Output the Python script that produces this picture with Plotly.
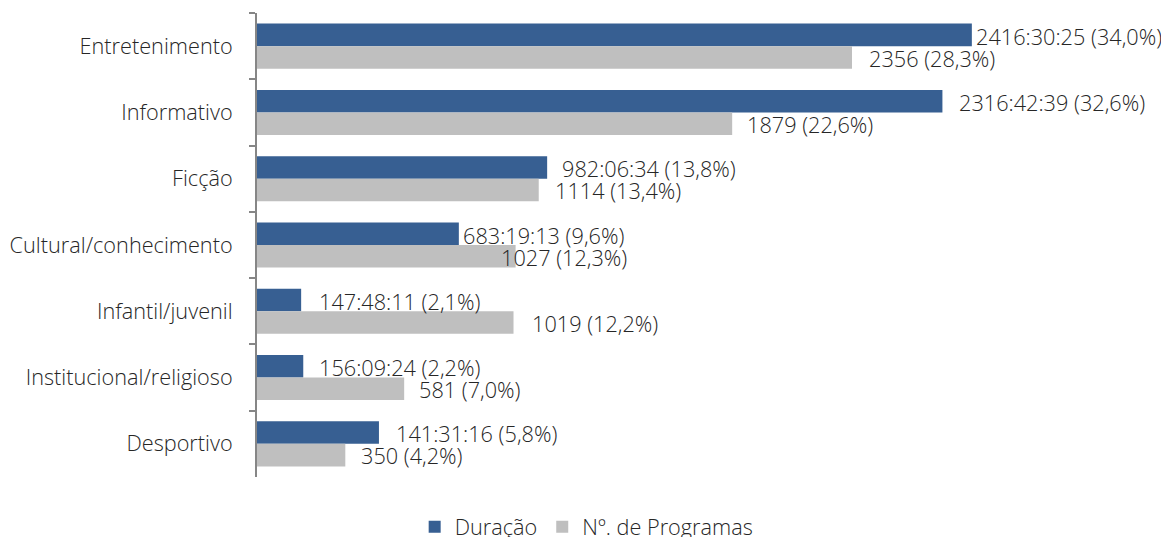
import plotly.graph_objects as go

categories = ["Entretenimento", "Informativo", "Ficção", "Cultural/conhecimento",
              "Infantil/juvenil", "Institucional/religioso", "Desportivo"]
duracao_pct = [34.0, 32.6, 13.8, 9.6, 2.1, 2.2, 5.8]
duracao_lbl = ["2416:30:25 (34,0%)", "2316:42:39 (32,6%)", "982:06:34 (13,8%)",
               "683:19:13 (9,6%)", "147:48:11 (2,1%)", "156:09:24 (2,2%)",
               "141:31:16 (5,8%)"]
programas_pct = [28.3, 22.6, 13.4, 12.3, 12.2, 7.0, 4.2]
programas_lbl = ["2356 (28,3%)", "1879 (22,6%)", "1114 (13,4%)", "1027 (12,3%)",
                 "1019 (12,2%)", "581 (7,0%)", "350 (4,2%)"]

# label horizontal offsets (px) mimicking the manually placed labels
dur_shift = [2, 15, 13, 2, 16, 14, 15]
prog_shift = [15, 13, 14, -17, 16, 13, 14]

BLUE = "#375F92"
GREY = "#BFBFBF"
TXT = "#262626"
FONT = "Open Sans"
FS = 21.7

fig = go.Figure()
fig.add_trace(go.Bar(y=categories, x=duracao_pct, orientation="h", name="Duração",
                     marker=dict(color=BLUE, line=dict(width=0))))
fig.add_trace(go.Bar(y=categories, x=programas_pct, orientation="h", name="Nº. de Programas",
                     marker=dict(color=GREY, line=dict(width=0))))

lf = dict(family=FONT, size=FS, color=TXT, weight=300)
ann = []
for c, v, t, s in zip(categories, duracao_pct, duracao_lbl, dur_shift):
    ann.append(dict(x=v, y=c, text=t, xanchor="left", yanchor="middle", showarrow=False,
                    xshift=s, yshift=10, font=lf))
for c, v, t, s in zip(categories, programas_pct, programas_lbl, prog_shift):
    ann.append(dict(x=v, y=c, text=t, xanchor="left", yanchor="middle", showarrow=False,
                    xshift=s, yshift=-12, font=lf))

fig.update_layout(
    width=1169, height=537,
    margin=dict(l=249, r=79, t=5, b=68, autoexpand=False),
    paper_bgcolor="white", plot_bgcolor="white",
    barmode="group", bargap=0.32, bargroupgap=0,
    font=lf,
    annotations=ann,
    xaxis=dict(range=[0, 40], visible=False, showgrid=False, zeroline=False),
    yaxis=dict(autorange="reversed", showline=True, linecolor="#868686", linewidth=2,
               ticks="outside", tickson="boundaries", ticklen=6, tickcolor="#868686",
               tickwidth=2, showgrid=False, ticklabelstandoff=18, tickfont=lf),
    legend=dict(orientation="h", x=0.392, xanchor="center", y=-0.108, yanchor="middle",
                font=lf, itemwidth=30, traceorder="normal"),
    showlegend=True,
)

fig.write_html("out.html")
